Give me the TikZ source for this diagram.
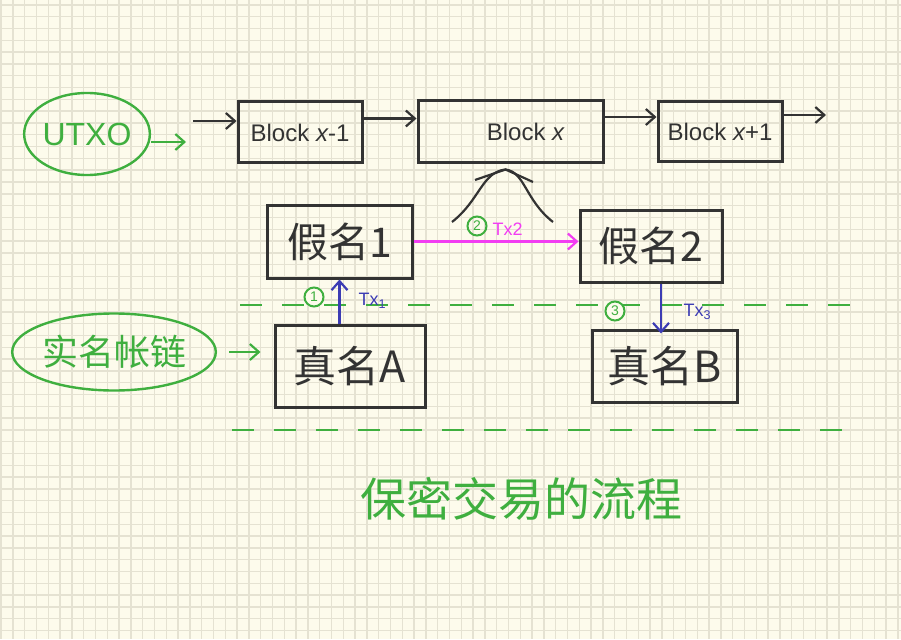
\documentclass[tikz,border=0pt]{standalone}
\usepackage{fontspec}
\setmainfont{Liberation Sans}
\newfontfamily\cjk{Noto Sans CJK SC}
\usetikzlibrary{arrows.meta,shapes.geometric}
\definecolor{paper}{HTML}{FDFBEC}
\definecolor{gridline}{HTML}{E5E2D2}
\definecolor{pen}{HTML}{333333}
\definecolor{greenpen}{HTML}{3FAF3F}
\definecolor{pinkpen}{HTML}{F23DF2}
\definecolor{bluepen}{HTML}{3C3CB4}
\tikzset{
  box/.style={draw=pen, line width=3pt, inner sep=0pt, text=pen},
  blocktext/.style={font=\fontsize{24}{24}\selectfont},
  nametext/.style={font=\cjk\fontsize{41}{41}\selectfont},
  penarrow/.style={-{Straight Barb[length=9pt,width=16pt,line width=2.2pt]}, line width=2.2pt},
  greenloop/.style={ellipse, draw=greenpen, line width=2.4pt, text=greenpen, inner sep=0pt},
  stepmark/.style={circle, draw=greenpen, text=greenpen, line width=2pt, inner sep=1pt,
    minimum size=19pt, font=\fontsize{14}{14}\selectfont},
  txlabel/.style={font=\fontsize{18}{18}\selectfont},
  guide/.style={draw=greenpen, line width=2.2pt, dash pattern=on 22pt off 20pt},
}
\begin{document}
\begin{tikzpicture}[x=1pt,y=-1pt]
\useasboundingbox (0,0) rectangle (901,639);
\fill[paper] (0,0) rectangle (901,639);
% squared paper
\foreach \i in {0,...,76}
  \draw[gridline, line width=1.4pt] ({1+\i*11.8},0) -- ++(0,639);
\foreach \j in {0,...,54}
  \draw[gridline, line width=1.4pt] (0,{5+\j*11.8}) -- ++(901,0);

% the chain
\node[box, blocktext, minimum width=124, minimum height=61] (blockA) at (300,132.5) {Block {\itshape x}-1};
\node[box, blocktext, minimum width=185, minimum height=62] (blockB) at (510.5,132) {\hspace*{30pt}Block \itshape x};
\node[box, blocktext, minimum width=124, minimum height=60] (blockC) at (720,132) {Block {\itshape x}+1};
\coordinate (chainin) at (193,121);
\coordinate (chainout) at (826,115);
\draw[pen, penarrow] (chainin) -- (chainin -| blockA.west);
\draw[pen, penarrow] ([yshift=14pt]blockA.east) -- ([yshift=14pt]blockA.east -| blockB.west);
\draw[pen, penarrow] ([yshift=15pt]blockB.east) -- ([yshift=15pt]blockB.east -| blockC.west);
\draw[pen, penarrow] ([yshift=17pt]blockC.east) -- (chainout);

\node[greenloop, minimum width=120, minimum height=82, font=\fontsize{32}{32}\selectfont] (utxo) at (87,134) {UTXO};
\coordinate (utxoend) at (186,142);
\draw[greenpen, penarrow] (utxo.east |- utxoend) -- (utxoend);

% pseudonyms and real names
\node[box, nametext, minimum width=145, minimum height=73] (jia1) at (339.5,241.5) {假名1};
\node[box, nametext, minimum width=142, minimum height=72] (jia2) at (651,246) {假名2};
\node[box, nametext, minimum width=150, minimum height=82, font=\cjk\fontsize{43}{43}\selectfont] (zhenA) at (350,366) {真名A};
\node[box, nametext, minimum width=145, minimum height=72, font=\cjk\fontsize{43}{43}\selectfont] (zhenB) at (664.5,366) {真名B};

\node[greenloop, minimum width=198, minimum height=77, font=\cjk\fontsize{36}{36}\selectfont] (shiming) at (114,352) {实名帐链};
\draw[greenpen, penarrow, shorten <=12pt, shorten >=13pt] (shiming.east) -- (shiming.east -| zhenA.west);

% into block x
\coordinate (apex) at ([xshift=-5pt,yshift=-5pt]blockB.south);
\draw[pen, line width=2.2pt] (452,222) .. controls (480,200) and (482,172) .. (apex)
  .. controls (525,172) and (525,200) .. (553,222);
\draw[pen, line width=2.2pt] (475,180) -- (apex) -- (533,182);

% guide lines
\draw[guide] (240,305) -- (860,305);
\draw[guide] (232,430) -- (856,430);

% transactions
\draw[pinkpen, penarrow] (jia1.east) -- (jia1.east -| jia2.west);
\node[stepmark] (two) at (477,226) {2};
\node[txlabel, text=pinkpen, anchor=west] (tx2) at (489,229) {Tx2};

\draw[bluepen, penarrow] (zhenA.north -| jia1.south) -- (jia1.south);
\node[stepmark, fill=paper] (one) at (314,297) {1};
\node[txlabel, text=bluepen, anchor=west] (tx1) at (355,301) {Tx\textsubscript{1}};

\draw[bluepen, penarrow] ([xshift=10pt]jia2.south) -- ([xshift=10pt,yshift=-5pt]jia2.south |- zhenB.north);
\node[stepmark, fill=paper] (three) at (615,311) {3};
\node[txlabel, text=bluepen, anchor=west] (tx3) at (680,312) {Tx\textsubscript{3}};

\node[text=greenpen, font=\cjk\fontsize{46}{46}\selectfont] (title) at (521,499) {保密交易的流程};
\end{tikzpicture}
\end{document}
